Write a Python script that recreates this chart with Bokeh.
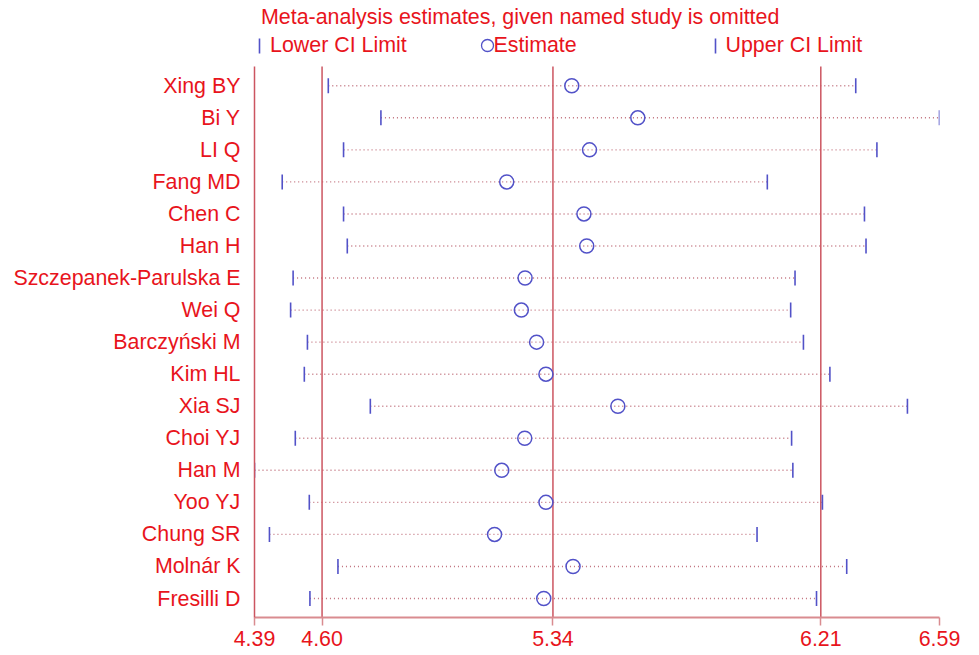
import math
from bokeh.plotting import figure
from bokeh.models import Range1d, FixedTicker
from bokeh.core.properties import value
from bokeh.embed import file_html
from bokeh.resources import INLINE

# ---------------- data ----------------
studies = ["Xing BY", "Bi Y", "LI Q", "Fang MD", "Chen C", "Han H",
           "Szczepanek-Parulska E", "Wei Q", "Barczyński M", "Kim HL",
           "Xia SJ", "Choi YJ", "Han M", "Yoo YJ", "Chung SR",
           "Molnár K", "Fresilli D"]
lower = [4.627, 4.796, 4.676, 4.479, 4.676, 4.688, 4.514, 4.506, 4.560,
         4.550, 4.762, 4.521, 4.390, 4.566, 4.438, 4.658, 4.568]
estimate = [5.409, 5.621, 5.466, 5.200, 5.448, 5.457, 5.259, 5.247, 5.296,
            5.326, 5.557, 5.258, 5.184, 5.326, 5.161, 5.413, 5.319]
upper = [6.321, 6.590, 6.389, 6.037, 6.349, 6.354, 6.126, 6.112, 6.153,
         6.238, 6.487, 6.115, 6.119, 6.214, 6.004, 6.292, 6.195]

# overall estimate and CI (vertical reference lines)
overall = [4.607, 5.3485, 6.2088]
x_min, x_max = 4.39, 6.59
tick_values = [4.39, 4.607, 5.3485, 6.2088, 6.59]
tick_labels = ["4.39", "4.60", "5.34", "6.21", "6.59"]

title_text = "Meta-analysis estimates, given named study is omitted"
legend_labels = ["Lower CI Limit", "Estimate", "Upper CI Limit"]

# ---------------- styles ----------------
RED_TEXT = "#e8141c"
VLINE = "#cc5560"
AXIS = "#d98c90"
BLUE = "#5252c8"
DOT = "#c0707c"
FONT = value("Liberation Sans")
FS = "21.4px"

W, H = 979, 655
FRAME_L, FRAME_R, FRAME_T, FRAME_B = 254, 939, 0, 617

n = len(studies)
rows = [n - i for i in range(n)]          # top study -> n, bottom -> 1
row_px = 32.06
y_top = n + (85.3 - FRAME_T) / row_px
y_bot = 1 - (FRAME_B - 598) / row_px
line_top = n + (85.3 - 66) / row_px

p = figure(width=W, height=H, output_backend="svg", toolbar_location=None,
           x_range=Range1d(x_min, x_max), y_range=Range1d(y_bot, y_top),
           min_border_left=FRAME_L, min_border_right=W - FRAME_R,
           min_border_top=FRAME_T, min_border_bottom=H - FRAME_B)
p.outline_line_color = None
p.grid.visible = False
p.background_fill_color = "white"
p.border_fill_color = "white"

# dotted CI lines
p.segment(x0=lower, y0=rows, x1=upper, y1=rows, line_color=DOT,
          line_width=1.4, line_dash="1 3")

# vertical reference lines
p.segment(x0=overall, y0=[y_bot] * 3, x1=overall, y1=[line_top] * 3,
          line_color=VLINE, line_width=1.5)

# CI limit marks and estimates
p.scatter(x=lower, y=rows, marker="dash", angle=math.pi / 2, size=15,
          line_color=BLUE, line_width=1.6)
p.scatter(x=upper, y=rows, marker="dash", angle=math.pi / 2, size=15,
          line_color=BLUE, line_width=1.6)
p.scatter(x=estimate, y=rows, marker="circle", size=14, fill_color=None,
          line_color=BLUE, line_width=1.5)

# title and legend (inside the frame, above the data rows)
px_per_unit = (FRAME_R - FRAME_L) / (x_max - x_min)
def sx(px):
    return x_min + (px - FRAME_L) / px_per_unit
def sy(py):
    return n + (85.3 - py) / row_px

p.text(x=[sx(260.5)], y=[sy(16.3)], text=[title_text], text_color=RED_TEXT,
       text_font=FONT, text_font_size=FS, text_baseline="middle",
       text_align="left")
leg_y = sy(44.3)
p.scatter(x=[sx(259), sx(715)], y=[sy(45.5)] * 2, marker="dash",
          angle=math.pi / 2, size=15, line_color=BLUE, line_width=1.6)
p.scatter(x=[sx(487)], y=[sy(45)], marker="circle", size=12, fill_color=None,
          line_color=BLUE, line_width=1.3)
p.text(x=[sx(269.5), sx(493), sx(725)], y=[leg_y] * 3, text=legend_labels,
       text_color=RED_TEXT, text_font=FONT, text_font_size=FS,
       text_baseline="middle", text_align="left")

# x axis
xa = p.xaxis[0]
xa.ticker = FixedTicker(ticks=tick_values, minor_ticks=[])
xa.major_label_overrides = {v: l for v, l in zip(tick_values, tick_labels)}
xa.bounds = (x_min, x_max)
xa.axis_line_color = AXIS
xa.axis_line_width = 2
xa.major_tick_line_color = AXIS
xa.major_tick_line_width = 1.5
xa.major_tick_out = 8
xa.major_tick_in = 0
xa.minor_tick_line_color = None
xa.major_label_standoff = 5
xa.major_label_text_font = "Liberation Sans"
xa.major_label_text_font_size = FS
xa.major_label_text_color = RED_TEXT

# y axis with study names
ya = p.yaxis[0]
ya.ticker = FixedTicker(ticks=rows, minor_ticks=[])
ya.major_label_overrides = {r: s for r, s in zip(rows, studies)}
ya.bounds = (y_bot, line_top)
ya.axis_line_color = VLINE
ya.axis_line_width = 1.5
ya.major_tick_line_color = None
ya.minor_tick_line_color = None
ya.major_tick_out = 0
ya.major_tick_in = 0
ya.major_label_standoff = 14
ya.major_label_text_font = "Liberation Sans"
ya.major_label_text_font_size = FS
ya.major_label_text_color = RED_TEXT

open("out.html", "w").write(file_html(p, INLINE))
